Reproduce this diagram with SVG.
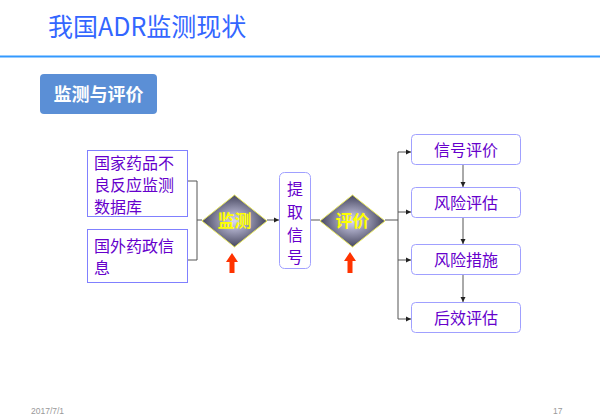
<svg xmlns="http://www.w3.org/2000/svg" width="600" height="419" viewBox="0 0 600 419">
<style>
.t{font-family:"Noto Sans CJK SC","Liberation Sans",sans-serif;}
.box{fill:#fff;stroke:#8080ff;stroke-width:1;}
.rbox{fill:#fff;stroke:#a0a0ff;stroke-width:1;}
.lbl{font-size:16px;fill:#6600cc;}
.c{text-anchor:middle;}
.ln{fill:none;stroke:#555;stroke-width:1;}
.dtxt{font-size:17px;font-weight:bold;fill:#ffff00;text-anchor:middle;}
.foot{font-family:"Liberation Sans",sans-serif;font-size:8.5px;fill:#999;}
</style>
<defs>
<radialGradient id="dg" cx="0.5" cy="0.5" r="0.5">
<stop offset="0" stop-color="#d8d8f4"/>
<stop offset="1" stop-color="#46465e"/>
</radialGradient>
<marker id="ah" markerWidth="6" markerHeight="6" refX="5" refY="3" orient="auto" markerUnits="userSpaceOnUse">
<path d="M0,0.5 L5,3 L0,5.5 Z" fill="#222"/>
</marker>
</defs>
<rect width="600" height="419" fill="#fff"/>
<text class="t" x="48" y="36" font-size="25" fill="#3366ff">我国ADR监测现状</text>
<line x1="0" y1="56.5" x2="600" y2="56.5" stroke="#3399ff" stroke-width="2"/>
<g id="section">
<rect x="40" y="74" width="117" height="40" rx="4" fill="#5b8fd6"/>
<text class="t c" x="98.5" y="101" font-size="18" font-weight="bold" fill="#fff">监测与评价</text>
</g>
<g id="connectors">
<path class="ln" d="M188,181 H197 V260 H188"/>
<path class="ln" d="M197,220 H202"/>
<path class="ln" d="M267,220 H279" marker-end="url(#ah)"/>
<path class="ln" d="M311,220 H320"/>
<path class="ln" d="M385,220 H398"/>
<path class="ln" d="M398,152 V319"/>
<path class="ln" d="M398,152 H411" marker-end="url(#ah)"/>
<path class="ln" d="M398,212 H411" marker-end="url(#ah)"/>
<path class="ln" d="M398,260 H411" marker-end="url(#ah)"/>
<path class="ln" d="M398,319 H411" marker-end="url(#ah)"/>
<path class="ln" d="M463,164 V187" marker-end="url(#ah)"/>
<path class="ln" d="M463,217 V244" marker-end="url(#ah)"/>
<path class="ln" d="M463,274 V302" marker-end="url(#ah)"/>
</g>
<g id="db">
<rect class="box" x="87.5" y="150.5" width="100" height="66"/>
<text class="t lbl" x="94" y="169">国家药品不</text>
<text class="t lbl" x="94" y="191">良反应监测</text>
<text class="t lbl" x="94" y="213">数据库</text>
</g>
<g id="foreign">
<rect class="box" x="87.5" y="229.5" width="100" height="53"/>
<text class="t lbl" x="94" y="252">国外药政信</text>
<text class="t lbl" x="94" y="274">息</text>
</g>
<g id="monitor">
<path d="M202,221 L234.5,195 L267,221 L234.5,247 Z" fill="url(#dg)" stroke="#e8e860" stroke-width="1"/>
<text class="t dtxt" x="234.5" y="227">监测</text>
</g>
<g id="up1">
<path d="M232,253 L238,262 L234.5,262 L234.5,273 L229.5,273 L229.5,262 L226,262 Z" fill="#ff3300"/>
</g>
<g id="extract">
<rect class="rbox" x="279.5" y="172.5" width="31" height="96" rx="5"/>
<text class="t lbl c" x="295" y="195">提</text>
<text class="t lbl c" x="295" y="218">取</text>
<text class="t lbl c" x="295" y="241">信</text>
<text class="t lbl c" x="295" y="263">号</text>
</g>
<g id="evaluate">
<path d="M320,221 L352.5,195 L385,221 L352.5,247 Z" fill="url(#dg)" stroke="#e8e860" stroke-width="1"/>
<text class="t dtxt" x="352.5" y="227">评价</text>
</g>
<g id="up2">
<path d="M350,252 L356,261 L352.5,261 L352.5,273 L347.5,273 L347.5,261 L344,261 Z" fill="#ff3300"/>
</g>
<g id="sig">
<rect class="rbox" x="411.5" y="134.5" width="109" height="30" rx="4"/>
<text class="t lbl c" x="466" y="156">信号评价</text>
</g>
<g id="risk">
<rect class="rbox" x="411.5" y="187.5" width="109" height="30" rx="4"/>
<text class="t lbl c" x="466" y="209">风险评估</text>
</g>
<g id="measure">
<rect class="rbox" x="411.5" y="244.5" width="109" height="30" rx="4"/>
<text class="t lbl c" x="466" y="266">风险措施</text>
</g>
<g id="post">
<rect class="rbox" x="411.5" y="302.5" width="109" height="30" rx="4"/>
<text class="t lbl c" x="466" y="324">后效评估</text>
</g>
<text class="foot" x="31" y="414">2017/7/1</text>
<text class="foot" x="553" y="414">17</text>
</svg>
